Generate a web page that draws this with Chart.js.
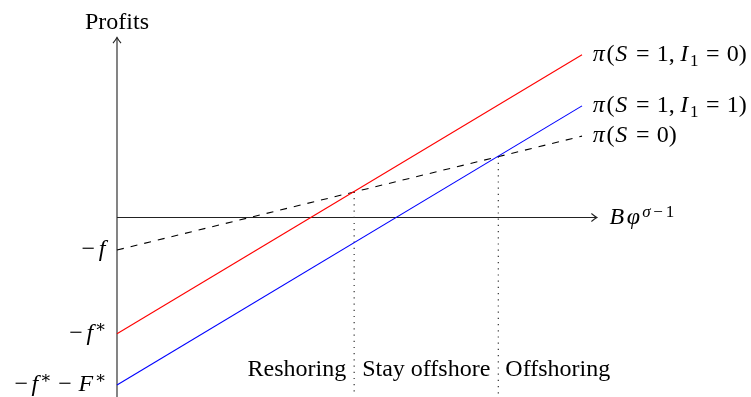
<!DOCTYPE html>
<html>
<head>
<meta charset="utf-8">
<script src="https://cdn.jsdelivr.net/npm/chart.js@4.4.1/dist/chart.umd.min.js"></script>
<style>
  html, body { margin: 0; padding: 0; background: #fff; }
  #wrap { width: 751px; height: 397px; }
</style>
</head>
<body>
<div id="wrap"><canvas id="c" width="751" height="397"></canvas></div>
<script>
// Productivity index (horizontal axis) at the two ends of each profit line
const xEnds = [0, 10];
// Profit lines: value at each end of xEnds
const profitReshore = [-2.5, 3.5];    // π(S = 1, I1 = 0)
const profitOffshore = [-3.6, 2.4];   // π(S = 1, I1 = 1)
const profitDomestic = [-0.7, 1.75];  // π(S = 0)
// Cut-off productivities where the lines cross, and the profit level there
const cutoffX = [5.1, 8.2];
const cutoffProfit = [0.55, 1.31];
const cutoffFloor = -3.8;
// Axis extents (tips of the arrows and bottom end of the vertical axis)
const axisX = [0, 10.32];
const axisY = [-3.86, 3.87];
// Texts
const lineLabels = [
  [['π', 'it'], ['(', 'rm'], ['S', 'it'], ['=', 'rel'], ['1', 'rm'], [',', 'punct'], ['I', 'it'], ['1', 'sub'], ['=', 'rel'], ['0', 'rm'], [')', 'rm']],
  [['π', 'it'], ['(', 'rm'], ['S', 'it'], ['=', 'rel'], ['1', 'rm'], [',', 'punct'], ['I', 'it'], ['1', 'sub'], ['=', 'rel'], ['1', 'rm'], [')', 'rm']],
  [['π', 'it'], ['(', 'rm'], ['S', 'it'], ['=', 'rel'], ['0', 'rm'], [')', 'rm']]
];
const interceptLabels = [
  [['−', 'op'], ['f', 'it'], ['∗', 'sup']],
  [['−', 'op'], ['f', 'it'], ['∗', 'sup'], ['−', 'bin'], ['F', 'it'], ['∗', 'sup']],
  [['−', 'op'], ['f', 'it']]
];
const xAxisLabel = [['B', 'it'], ['φ', 'it'], ['σ', 'supit'], ['−', 'supop'], ['1', 'sup']];
const yAxisLabel = 'Profits';
const regionLabels = ['Reshoring', 'Stay offshore', 'Offshoring'];

const FONT = "'Liberation Serif', 'DejaVu Serif', serif";
const SIZE = 24;
const SMALL = Math.round(SIZE * 0.7);

function fontFor(kind) {
  switch (kind) {
    case 'it': return 'italic ' + SIZE + 'px ' + FONT;
    case 'sub': case 'sup': case 'supop': return SMALL + 'px ' + FONT;
    case 'supit': return 'italic ' + SMALL + 'px ' + FONT;
    default: return SIZE + 'px ' + FONT;
  }
}
// extra room (in em of the part's size) before and after each kind of part
const PAD = {
  rel: [0.3, 0.3], bin: [0.25, 0.25], op: [0.05, 0.12], supop: [0.1, 0.15],
  punct: [0, 0.2], it: [0.03, 0.07], supit: [0.03, 0.06], rm: [0, 0], sub: [0, 0.02], sup: [0.02, 0.02]
};
function partBox(ctx, p) {
  const [t, kind] = p;
  ctx.font = fontFor(kind);
  const size = (kind === 'sub' || kind === 'sup' || kind === 'supit' || kind === 'supop') ? SMALL : SIZE;
  const pad = PAD[kind] || [0, 0];
  const tw = ctx.measureText(t).width;
  return { before: pad[0] * size, tw, w: pad[0] * size + tw + pad[1] * size };
}
function richWidth(ctx, parts) {
  return parts.reduce((s, p) => s + partBox(ctx, p).w, 0);
}
function drawRich(ctx, parts, x, baseline, align) {
  const total = richWidth(ctx, parts);
  let cx = align === 'right' ? x - total : align === 'center' ? x - total / 2 : x;
  ctx.textBaseline = 'alphabetic';
  ctx.textAlign = 'left';
  ctx.fillStyle = '#000';
  for (const p of parts) {
    const [t, kind] = p;
    const b = partBox(ctx, p);
    ctx.font = fontFor(kind);
    let dy = 0;
    if (kind === 'sub') dy = SIZE * 0.2;
    if (kind === 'sup' || kind === 'supit' || kind === 'supop') dy = -SIZE * 0.33;
    ctx.fillText(t, cx + b.before, baseline + dy);
    cx += b.w;
  }
}
function arrowHead(ctx, x, y, dir) {
  // open arrow tip pointing along dir ('up' or 'right')
  ctx.beginPath();
  if (dir === 'up') {
    ctx.moveTo(x - 4, y + 5.5); ctx.quadraticCurveTo(x - 1, y + 2, x, y);
    ctx.quadraticCurveTo(x + 1, y + 2, x + 4, y + 5.5);
  } else {
    ctx.moveTo(x - 5.5, y - 4); ctx.quadraticCurveTo(x - 2, y - 1, x, y);
    ctx.quadraticCurveTo(x - 2, y + 1, x - 5.5, y + 4);
  }
  ctx.stroke();
}

const annotations = {
  id: 'annotations',
  beforeDatasetsDraw(chart) {
    const { ctx, scales: { x, y } } = chart;
    ctx.save();
    ctx.strokeStyle = '#222';
    ctx.lineWidth = 1.1;
    const x0 = x.getPixelForValue(axisX[0]);
    const x1 = x.getPixelForValue(axisX[1]);
    const y0 = y.getPixelForValue(0);
    const yb = y.getPixelForValue(axisY[0]);
    const yt = y.getPixelForValue(axisY[1]);
    ctx.beginPath();
    ctx.moveTo(x0, y0); ctx.lineTo(x1, y0);
    ctx.moveTo(x0, yb); ctx.lineTo(x0, yt);
    ctx.stroke();
    arrowHead(ctx, x0, yt, 'up');
    arrowHead(ctx, x1, y0, 'right');
    ctx.restore();
  },
  afterDatasetsDraw(chart) {
    const { ctx, scales: { x, y } } = chart;
    ctx.save();
    const x0 = x.getPixelForValue(axisX[0]);
    const xe = x.getPixelForValue(xEnds[1]);
    const y0 = y.getPixelForValue(0);
    // axis titles
    drawRich(ctx, [[yAxisLabel, 'rm']], x0, y.getPixelForValue(axisY[1]) - 9, 'center');
    drawRich(ctx, xAxisLabel, x.getPixelForValue(axisX[1]) + 12, y0 + 7, 'left');
    // labels at the right end of each profit line
    const ends = [profitReshore[1], profitOffshore[1], profitDomestic[1]];
    lineLabels.forEach((parts, i) => {
      drawRich(ctx, parts, xe + 10, y.getPixelForValue(ends[i]) + 6, 'left');
    });
    // intercepts on the vertical axis
    const starts = [profitReshore[0], profitOffshore[0], profitDomestic[0]];
    interceptLabels.forEach((parts, i) => {
      drawRich(ctx, parts, x0 - 10, y.getPixelForValue(starts[i]) + 6, 'right');
    });
    // regions separated by the cut-offs
    const c1 = x.getPixelForValue(cutoffX[0]);
    const c2 = x.getPixelForValue(cutoffX[1]);
    const base = chart.chartArea.bottom - 21;
    drawRich(ctx, [[regionLabels[0], 'rm']], c1 - 8, base, 'right');
    drawRich(ctx, [[regionLabels[1], 'rm']], (c1 + c2) / 2, base, 'center');
    drawRich(ctx, [[regionLabels[2], 'rm']], c2 + 7, base, 'left');
    ctx.restore();
  }
};

const pts = (vals) => xEnds.map((xv, i) => ({ x: xv, y: vals[i] }));
const cutoffLine = (i) => [{ x: cutoffX[i], y: cutoffProfit[i] }, { x: cutoffX[i], y: cutoffFloor }];

new Chart(document.getElementById('c'), {
  type: 'scatter',
  data: {
    datasets: [
      { data: pts(profitReshore), borderColor: '#ff0000', borderWidth: 1.1 },
      { data: pts(profitOffshore), borderColor: '#0000ff', borderWidth: 1.1 },
      { data: pts(profitDomestic), borderColor: '#000', borderWidth: 1.1, borderDash: [7, 7] },
      { data: cutoffLine(0), borderColor: '#333', borderWidth: 1.2, borderDash: [1.2, 5] },
      { data: cutoffLine(1), borderColor: '#333', borderWidth: 1.2, borderDash: [1.2, 5] }
    ].map(d => Object.assign({ showLine: true, pointRadius: 0, pointHoverRadius: 0, fill: false }, d))
  },
  options: {
    responsive: false,
    animation: false,
    events: [],
    layout: { padding: 0 },
    plugins: { legend: { display: false }, tooltip: { enabled: false } },
    scales: {
      x: { type: 'linear', display: false, min: -2.516, max: 13.634 },
      y: { type: 'linear', display: false, min: -3.860, max: 4.677 }
    }
  },
  plugins: [annotations]
});
</script>
</body>
</html>
